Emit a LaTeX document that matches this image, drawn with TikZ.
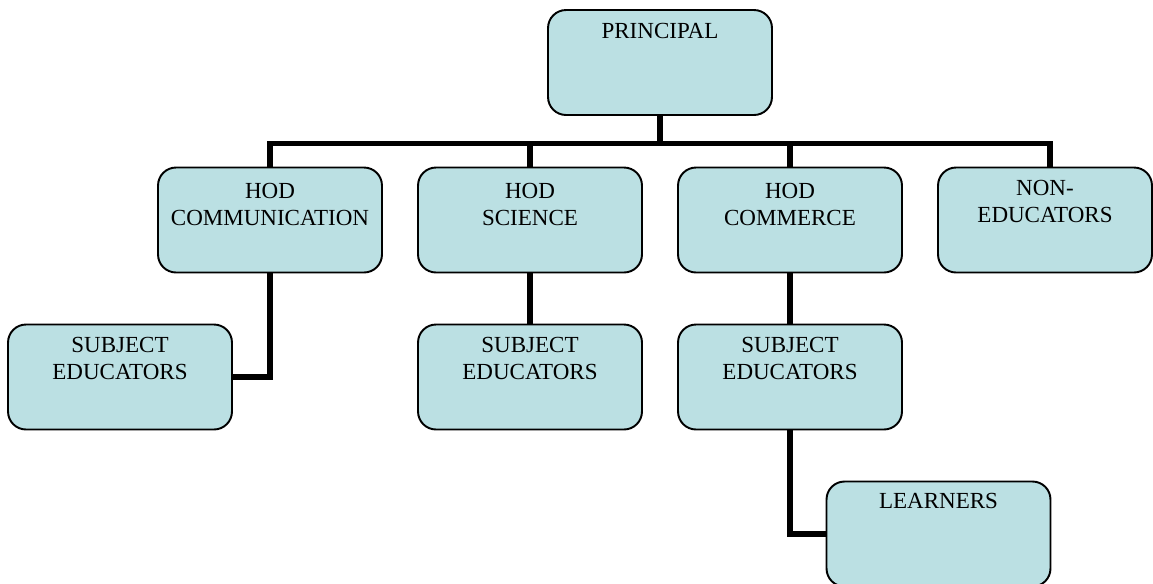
\documentclass[tikz,border=0pt]{standalone}
\usepackage{fontspec}
\setmainfont{Liberation Serif}
\usetikzlibrary{positioning}

\definecolor{boxblue}{RGB}{187,224,227}

\tikzset{
    unit/.style = {rectangle, rounded corners=0.36cm, draw=black, line width=1.1pt, fill=boxblue, minimum width=4.48cm, minimum height=2.1cm, inner sep=0pt},
    lbl/.style = {inner sep=0pt, align=center, font=\fontsize{13.1}{15.4}\selectfont},
    link/.style = {line width=3.4pt, black}
}

\begin{document}
\begin{tikzpicture}[x=0.02cm, y=-0.02cm]
            \useasboundingbox (0,0) rectangle (1153,583);
            % boxes
            \node[unit] (princ) at (660,62.5) {};
            \node[unit] (hodcom) at (270,220) {};
            \node[unit] (hodsci) at (530,220) {};
            \node[unit] (hodcmr) at (790,220) {};
            \node[unit, minimum width=4.28cm] (noned) at (1045,220) {};
            \node[unit] (subcom) at (120,377) {};
            \node[unit] (subsci) at (530,377) {};
            \node[unit] (subcmr) at (790,377) {};
            \node[unit] (learn) at (938.5,534) {};

            % texts
            \node[lbl, below=0.27cm of princ.north] (princ-t) {PRINCIPAL};
            \node[lbl, below=0.32cm of hodcom.north] (hodcom-t) {HOD\\COMMUNICATION};
            \node[lbl, below=0.32cm of hodsci.north] (hodsci-t) {HOD\\SCIENCE};
            \node[lbl, below=0.32cm of hodcmr.north] (hodcmr-t) {HOD\\COMMERCE};
            \node[lbl, below=0.27cm of noned.north] (noned-t) {NON-\\EDUCATORS};
            \node[lbl, below=0.27cm of subcom.north] (subcom-t) {SUBJECT\\EDUCATORS};
            \node[lbl, below=0.27cm of subsci.north] (subsci-t) {SUBJECT\\EDUCATORS};
            \node[lbl, below=0.27cm of subcmr.north] (subcmr-t) {SUBJECT\\EDUCATORS};
            \node[lbl, below=0.25cm of learn.north] (learn-t) {LEARNERS};

            % connectors
            \coordinate (bus) at (660,143.5);
            \draw[link] (princ.south) -- (bus);
            \draw[link] (hodcom.north) |- (bus) -| ([xshift=0.1cm]noned.north);
            \draw[link] (hodsci.north) -- (hodsci.north |- bus);
            \draw[link] (hodcmr.north) -- (hodcmr.north |- bus);
            \draw[link] (hodcom.south) |- (subcom.east);
            \draw[link] (hodsci.south) -- (subsci.north);
            \draw[link] (hodcmr.south) -- (subcmr.north);
            \draw[link] (subcmr.south) |- (learn.west);
\end{tikzpicture}
\end{document}
